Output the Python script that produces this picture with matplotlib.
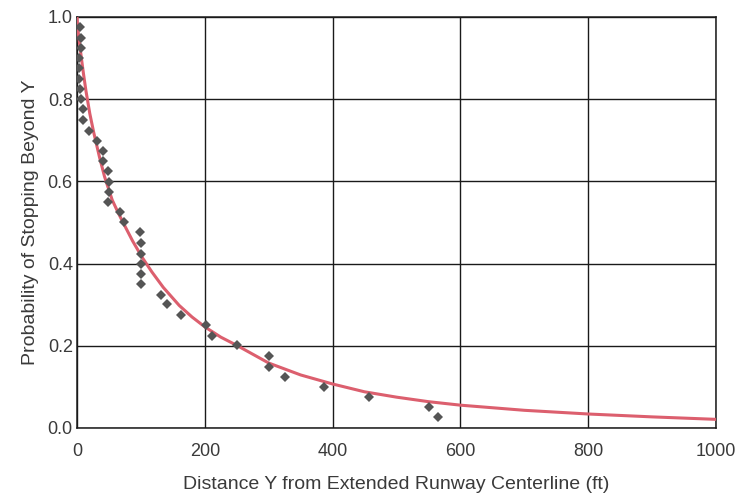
import matplotlib
matplotlib.use("Agg")
import matplotlib.pyplot as plt

obs_y = [4, 6, 6, 3, 3, 3, 4, 7, 9, 9, 19, 31, 40, 41, 49, 50, 50, 49, 67, 73,
         99, 100, 100, 100, 100, 100, 131, 141, 162, 202, 211, 251, 300, 300,
         325, 387, 457, 551, 565]
obs_p = [0.976, 0.948, 0.924, 0.900, 0.875, 0.849, 0.824, 0.800, 0.775, 0.749,
         0.723, 0.699, 0.675, 0.649, 0.625, 0.599, 0.575, 0.549, 0.525, 0.500,
         0.476, 0.450, 0.424, 0.398, 0.374, 0.350, 0.324, 0.301, 0.276, 0.251,
         0.224, 0.202, 0.175, 0.149, 0.125, 0.100, 0.076, 0.052, 0.027]

# Angepasste Kurve (Punkte)
curve_y = [0, 1, 2, 4, 7, 10, 14, 20, 26, 35, 43, 55, 64, 72, 87, 102, 117,
           135, 160, 180, 200, 225, 250, 300, 350, 400, 450, 500, 550, 600,
           700, 800, 900, 1000]
curve_p = [1.0, 0.978, 0.962, 0.935, 0.898, 0.863, 0.82, 0.765, 0.72, 0.66,
           0.612, 0.555, 0.525, 0.50, 0.455, 0.415, 0.38, 0.342, 0.298, 0.27,
           0.246, 0.221, 0.201, 0.158, 0.129, 0.107, 0.088, 0.075, 0.064,
           0.0555, 0.043, 0.034, 0.027, 0.021]

x_ticks = [0, 200, 400, 600, 800, 1000]
y_ticks = [0.0, 0.2, 0.4, 0.6, 0.8, 1.0]

plt.rcParams['font.family'] = ['Liberation Sans', 'DejaVu Sans']
text_color = "#3a3a3a"

fig = plt.figure(figsize=(7.42, 4.95), dpi=100)
ax = fig.add_axes([0.1038, 0.1354, 0.8612, 0.8303])

ax.plot(curve_y, curve_p, color="#dc5f6e", linewidth=2.2, zorder=3,
        solid_joinstyle="round")
ax.plot(obs_y, obs_p, linestyle="none", marker="D", markersize=4.6,
        color="#555555", markeredgewidth=0, zorder=4)

ax.set_xlim(0, 1000)
ax.set_ylim(0, 1.0)
ax.set_xticks(x_ticks)
ax.set_yticks(y_ticks)
ax.set_yticklabels([f"{v:.1f}" for v in y_ticks])
ax.grid(True, color="#1a1a1a", linewidth=1.0)
ax.set_axisbelow(True)
for s in ax.spines.values():
    s.set_color("#1a1a1a")
    s.set_linewidth(1.1)

ax.tick_params(axis="x", length=0, pad=10.5, labelsize=13, labelcolor=text_color)
ax.tick_params(axis="y", length=0, pad=3, labelsize=13, labelcolor=text_color)

ax.set_xlabel("Distance Y from Extended Runway Centerline (ft)", fontsize=14,
              color=text_color, labelpad=12)
ax.set_ylabel("Probability of Stopping Beyond Y", fontsize=14,
              color=text_color, labelpad=6)

fig.savefig("out.png", dpi=100)
